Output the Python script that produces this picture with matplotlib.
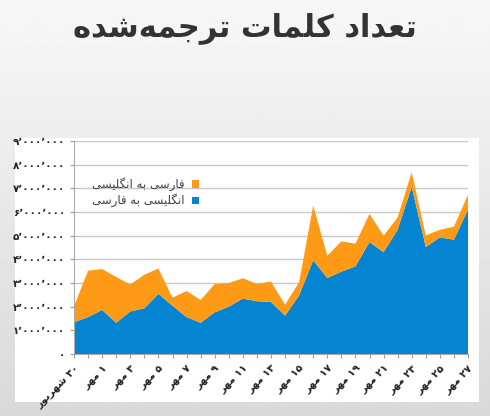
import matplotlib
matplotlib.use("Agg")
import matplotlib.pyplot as plt
from matplotlib.patches import Rectangle
import numpy as np

# ---- data (millions of words) ----
day_numbers = [30] + [31] + list(range(1, 28))
eng_to_fa = [1.34, 1.56, 1.86, 1.32, 1.80, 1.93, 2.54, 2.04, 1.56, 1.32, 1.76, 2.00, 2.34, 2.23, 2.20,
             1.62, 2.48, 3.96, 3.21, 3.48, 3.70, 4.73, 4.30, 5.25, 7.06, 4.52, 4.93, 4.83, 6.10]
totals = [2.01, 3.52, 3.59, 3.25, 2.94, 3.35, 3.61, 2.38, 2.66, 2.28, 2.96, 3.00, 3.20, 2.96, 3.06,
          2.08, 3.04, 6.27, 4.15, 4.76, 4.66, 5.92, 5.00, 5.77, 7.68, 5.01, 5.25, 5.38, 6.73]
fa_to_eng = [round(t - e, 2) for t, e in zip(totals, eng_to_fa)]
title_text = "تعداد کلمات ترجمه\u200cشده"
series_names = ["فارسی به انگلیسی", "انگلیسی به فارسی"]
month_first = "شهریور"
month = "مهر"

# ---- minimal Persian shaping ----
FORMS = {
    'ا': (0xFE8D, 0xFE8E, None, None), 'د': (0xFEA9, 0xFEAA, None, None),
    'ر': (0xFEAD, 0xFEAE, None, None), 'و': (0xFEED, 0xFEEE, None, None),
    'ب': (0xFE8F, 0xFE90, 0xFE91, 0xFE92), 'ت': (0xFE95, 0xFE96, 0xFE97, 0xFE98),
    'ج': (0xFE9D, 0xFE9E, 0xFE9F, 0xFEA0), 'س': (0xFEB1, 0xFEB2, 0xFEB3, 0xFEB4),
    'ش': (0xFEB5, 0xFEB6, 0xFEB7, 0xFEB8), 'ع': (0xFEC9, 0xFECA, 0xFECB, 0xFECC),
    'ف': (0xFED1, 0xFED2, 0xFED3, 0xFED4), 'ل': (0xFEDD, 0xFEDE, 0xFEDF, 0xFEE0),
    'م': (0xFEE1, 0xFEE2, 0xFEE3, 0xFEE4), 'ن': (0xFEE5, 0xFEE6, 0xFEE7, 0xFEE8),
    'ه': (0xFEE9, 0xFEEA, 0xFEEB, 0xFEEC), 'ک': (0xFB8E, 0xFB8F, 0xFB90, 0xFB91),
    'گ': (0xFB92, 0xFB93, 0xFB94, 0xFB95), 'ی': (0xFBFC, 0xFBFD, 0xFBFE, 0xFBFF),
}
def dual(c):
    return c in FORMS and FORMS[c][2] is not None
def shape(s):
    out = []
    for i, c in enumerate(s):
        if c not in FORMS:
            if c != '\u200c':
                out.append(c)
            continue
        prev = s[i - 1] if i > 0 else ''
        nxt = s[i + 1] if i + 1 < len(s) else ''
        jp = dual(prev)
        jn = dual(c) and nxt in FORMS
        iso, fin, ini, med = FORMS[c]
        if jp and jn: code = med
        elif jp: code = fin
        elif jn: code = ini
        else: code = iso
        out.append(chr(code))
    return ''.join(out[::-1])

fa_digits = str.maketrans("0123456789", "۰۱۲۳۴۵۶۷۸۹")
def fa_num(n):
    return str(n).translate(fa_digits)

x = np.arange(len(eng_to_fa))
labels = []
for i, d in enumerate(day_numbers):
    if i == 0:
        labels.append(shape(month_first) + " " + fa_num(d))
    elif i >= 2 and i % 2 == 0:
        labels.append(shape(month) + " " + fa_num(d))
    else:
        labels.append("")

plt.rcParams['font.family'] = ['DejaVu Sans']
W, H = 490, 416
fig = plt.figure(figsize=(W / 100, H / 100), dpi=100)
# background gradient
bg = fig.add_axes([0, 0, 1, 1], zorder=-10)
grad = np.linspace(0.80, 0.97, 256).reshape(-1, 1)
grad = np.minimum(grad, np.linspace(0.97, 0.86, 256).reshape(-1, 1) + 0.0)
bg.imshow(np.linspace(0.97, 0.85, 256).reshape(-1, 1), cmap='gray', vmin=0, vmax=1,
          aspect='auto', extent=[0, 1, 0, 1])
bg.axis('off')
fig.patches.append(Rectangle((15 / W, 1 - 402 / H), 464 / W, 264 / H, transform=fig.transFigure,
                             facecolor='white', edgecolor='none', zorder=-5))

fig.text(0.5, 1 - 28 / H, shape(title_text), ha='center', va='center', fontsize=22,
         fontweight='bold', color='#333333')

ax = fig.add_axes([74 / W, 1 - 354 / H, 394 / W, 213 / H])
blue = '#0484D1'
orange = '#FF9A16'
ax.stackplot(x, eng_to_fa, fa_to_eng, colors=[blue, orange], linewidth=0)
ax.set_xlim(0, len(x) - 1)
ax.set_ylim(0, 9)
ax.set_yticks(range(10))
ylabels = []
for v in range(10):
    ylabels.append("۰" if v == 0 else fa_num(v) + "٬۰۰۰٬۰۰۰")
ax.set_yticklabels(ylabels, fontsize=7.5, fontweight='bold', color='#222222')
ax.set_xticks(x)
ax.set_xticklabels(labels, rotation=45, ha='right', rotation_mode='anchor', fontsize=7.5,
                   fontweight='bold', color='#222222')
ax.tick_params(axis='both', length=3, color='#999999')
ax.grid(axis='y', color='#c8c8c8', linewidth=1)
ax.set_axisbelow(True)
for s in ['top', 'right']:
    ax.spines[s].set_visible(False)
for s in ['left', 'bottom']:
    ax.spines[s].set_color('#aaaaaa')
ax.set_facecolor('none')

# legend (RTL)
for k, (name, col) in enumerate(zip(series_names, [orange, blue])):
    yy = 1 - (184 + 16 * k) / H
    fig.patches.append(Rectangle((192 / W, yy - 3.5 / H), 7 / W, 7 / H, transform=fig.transFigure,
                                 facecolor=col, edgecolor='none'))
    fig.text(185 / W, yy, shape(name), ha='right', va='center', fontsize=8.5, color='#404040')

fig.savefig("out.png", dpi=100)
